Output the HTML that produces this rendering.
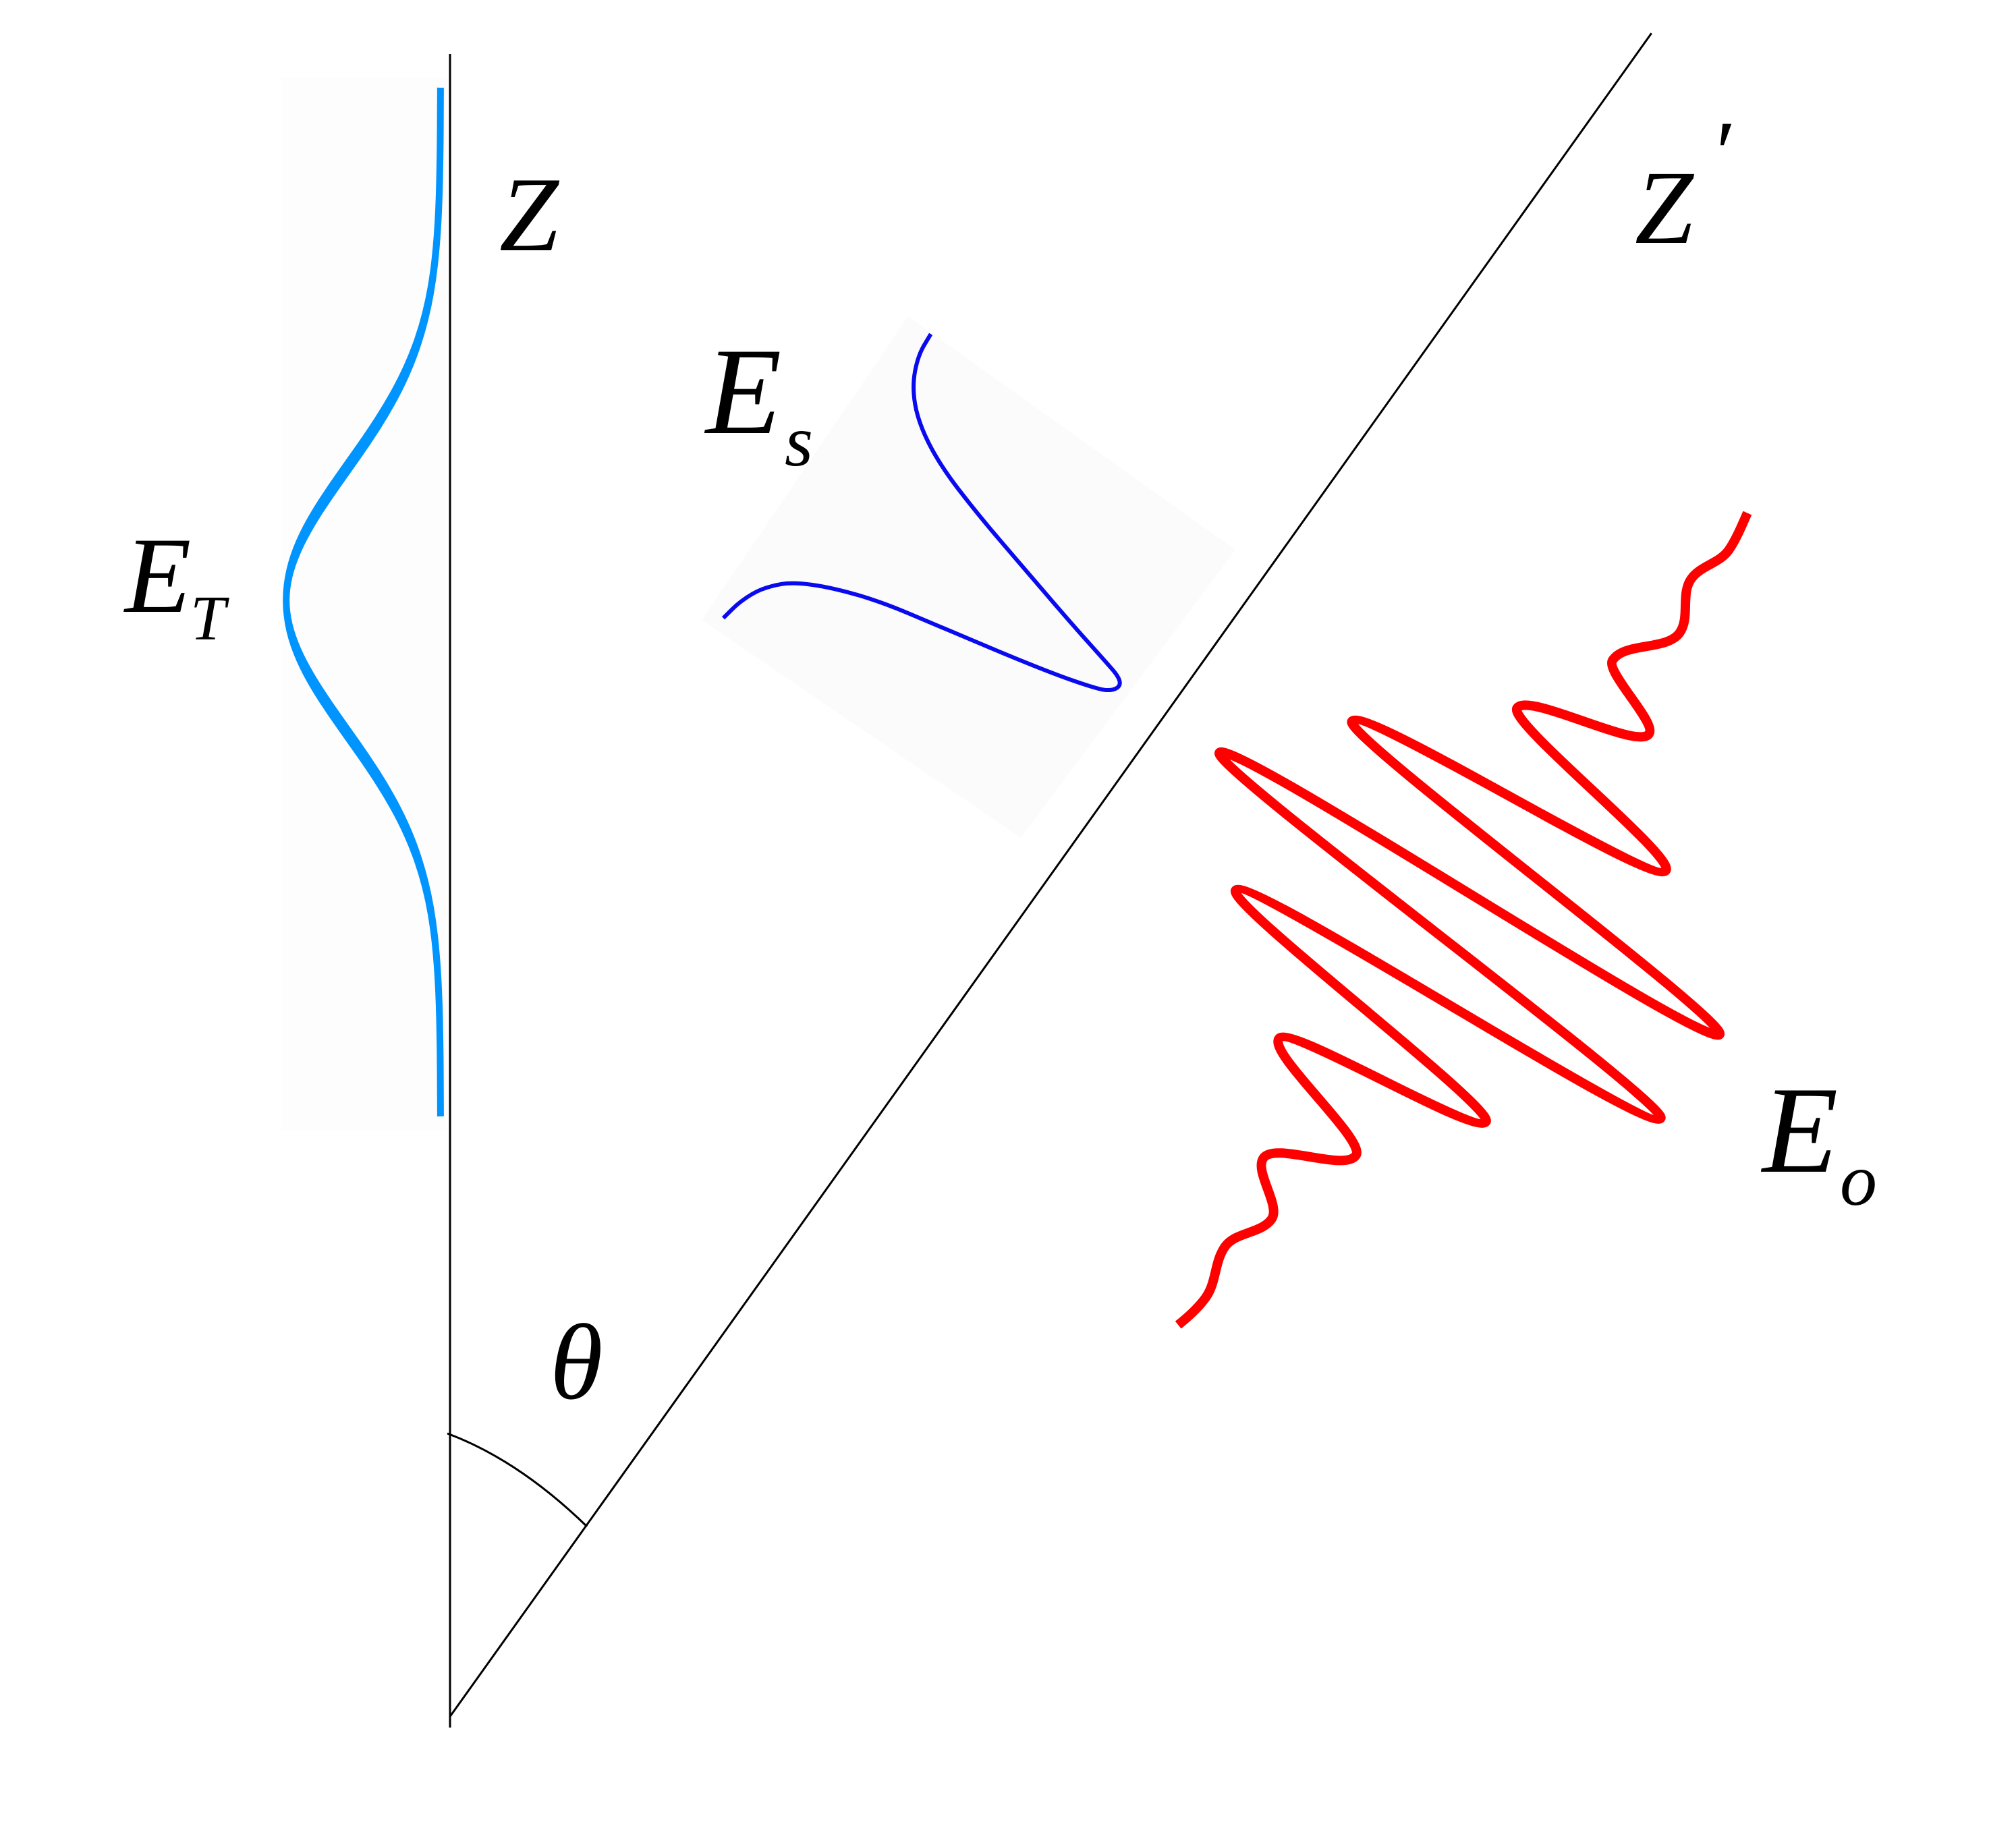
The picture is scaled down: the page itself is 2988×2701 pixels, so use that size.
<!DOCTYPE html>
<html>
<head>
<meta charset="utf-8">
<style>
  html, body { margin:0; padding:0; background:#ffffff; }
  body { width:2988px; height:2701px; overflow:hidden; }
  svg { display:block; }
  text { font-family: "Liberation Serif", "DejaVu Serif", serif; font-style: italic; fill:#000; }
</style>
</head>
<body>
<svg width="2988" height="2701" viewBox="0 0 2988 2701" xmlns="http://www.w3.org/2000/svg">
  <rect x="0" y="0" width="2988" height="2701" fill="#ffffff"/>

  <!-- faint background behind E_T -->
  <rect x="417" y="115" width="244" height="1561" fill="#fdfdfe"/>
  <!-- faint rotated background behind E_s -->
  <polygon points="1346,469 1831,815 1513,1242 1040,919" fill="#fbfbfc"/>

  <!-- axes -->
  <line x1="667" y1="80" x2="667" y2="2561" stroke="#000" stroke-width="3"/>
  <line x1="666.7" y1="2545" x2="2447.7" y2="49.3" stroke="#000" stroke-width="3"/>
  <!-- angle arc -->
  <path d="M663,2125 C730,2150 800,2195 870,2263" fill="none" stroke="#000" stroke-width="3"/>

  <!-- E_T curve (light blue) -->
  <g transform="translate(0,890) scale(1,2.5)">
    <path d="M652.9,-304 L652.8,-296 Q652.7,-288 652.6,-280 Q652.5,-272 652.2,-264 Q651.9,-256 651.45,-248 Q651,-240 650.15,-232 Q649.3,-224 647.85,-216 Q646.4,-208 644.15,-200 Q641.9,-192 638.45,-184 Q635,-176 629.95,-168 Q624.9,-160 618.05,-152 Q611.2,-144 602.2,-136 Q593.2,-128 582.1,-120 Q571,-112 558.1,-104 Q545.2,-96 531.15,-88 Q517.1,-80 502.9,-72 Q488.7,-64 475.7,-56 Q462.7,-48 452.15,-40 Q441.6,-32 434.7,-24 Q427.8,-16 425.4,-8 Q423,0 425.4,8 Q427.8,16 434.7,24 Q441.6,32 452.15,40 Q462.7,48 475.7,56 Q488.7,64 502.9,72 Q517.1,80 531.15,88 Q545.2,96 558.1,104 Q571,112 582.1,120 Q593.2,128 602.2,136 Q611.2,144 618.05,152 Q624.9,160 629.95,168 Q635,176 638.45,184 Q641.9,192 644.15,200 Q646.4,208 647.85,216 Q649.3,224 650.15,232 Q651,240 651.45,248 Q651.9,256 652.2,264 Q652.5,272 652.6,280 Q652.7,288 652.8,296 L652.9,306"
      fill="none" stroke="#0094ff" stroke-width="10" stroke-linecap="butt"/>
  </g>

  <!-- E_s curve (dark blue) -->
  <path d="M1379.6,495.2 L1370.1,511.05 Q1360.6,526.9 1356.25,550 Q1351.9,573.1 1356.25,599.05 Q1360.6,625 1376.45,656.75 Q1392.3,688.5 1421.15,726 Q1450,763.5 1484.6,803.85 Q1519.2,844.2 1553.85,884.6 Q1588.5,925 1614.45,953.85 Q1640.4,982.7 1649.05,992.85 Q1657.7,1003 1659.35,1009.5 Q1661,1016 1655.5,1019.75 Q1650,1023.5 1639.5,1023 Q1629,1022.5 1588.5,1008.25 Q1548,994 1476,963.85 Q1404,933.7 1346.25,909.15 Q1288.5,884.6 1236.55,873.05 Q1184.6,861.5 1158.65,865.85 Q1132.7,870.2 1115.35,880.3 Q1098,890.4 1085,903.35 L1072,916.3"
    fill="none" stroke="#0a0aee" stroke-width="6" stroke-linecap="butt" stroke-linejoin="round"/>

  <!-- E_o wave packet (red) -->
  <g transform="matrix(0.575,-0.818,0.818,0.575,2177,1327)">
    <path d="M -769 14 C -752 19, -732 24, -712 24
             C -683.7 24, -662.3 4, -634 4
             C -607.5 4, -587.5 37, -561 37
             C -536.7 37, -518.3 -25, -494 -25
             C -464.2 -25, -441.8 85, -412 85
             C -384.4 85, -363.6 -108, -336 -108
             C -308.4 -108, -287.6 214, -260 214
             C -235.7 214, -217.3 -287, -193 -287
             C -161.7 -287, -138.3 423, -107 423
             C -82.7 423, -64.3 -424, -40 -424
             C -9.1 -424, 14.1 423, 45 423
             C 69 423, 87 -290, 111 -290
             C 142.6 -290, 166.4 218, 198 218
             C 223.4 218, 242.6 -101, 268 -101
             C 297.4 -101, 319.6 81, 349 81
             C 370.4 81, 386.6 -26, 408 -26
             C 440.7 -26, 465.3 32, 498 32
             C 525.3 32, 545.7 0, 573 0
             C 597.3 0, 615.7 21, 640 21
             C 660 21, 685 15, 701 12"
      fill="none" stroke="#ff0000" stroke-width="14" stroke-linejoin="round" stroke-linecap="butt"/>
  </g>

  <!-- labels -->
  <text x="740" y="371" font-size="158">Z</text>
  <text x="2423" y="360" font-size="156">Z</text>
  <text x="2535" y="272" font-size="135">′</text>

  <text x="185" y="907" font-size="161">E</text>
  <text x="282" y="948" font-size="94">T</text>

  <text x="1046" y="642" font-size="184">E</text>
  <text x="1163" y="690" font-size="108">s</text>

  <text x="2612" y="1737" font-size="184">E</text>
  <text x="2727" y="1786" font-size="110">o</text>

  <text x="815" y="2073" font-size="160">θ</text>
</svg>
</body>
</html>
